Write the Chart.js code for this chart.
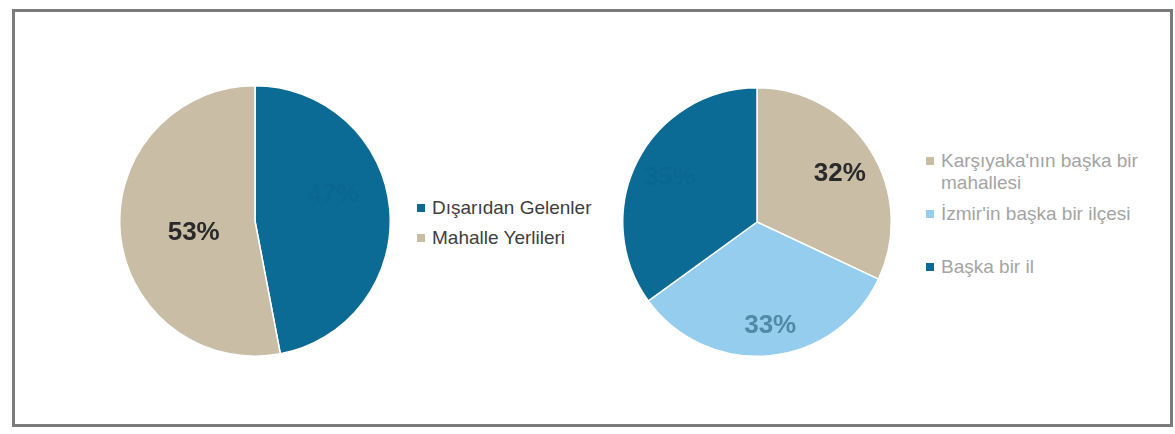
<!DOCTYPE html>
<html>
<head>
<meta charset="utf-8">
<script src="https://cdn.jsdelivr.net/npm/chart.js@4.4.1/dist/chart.umd.min.js"></script>
<style>
  body { margin: 0; background: #fff; font-family: "Liberation Sans", Arial, sans-serif; }
  #wrap { position: relative; width: 1175px; height: 434px; }
  #frame { position: absolute; left: 12px; top: 9px; width: 1155px; height: 412px; border: 3px solid #7b7b7b; }
  canvas { position: absolute; }
  .legend { position: absolute; font-size: 19px; }
  .legend div { position: relative; padding-left: 15px; }
  .legend span.mk { position: absolute; left: 0; width: 8px; height: 8px; }
</style>
</head>
<body>
<div id="wrap">
  <div id="frame"></div>
  <canvas id="pieLeft" width="272" height="272" style="left:119px; top:85px;"></canvas>
  <canvas id="pieRight" width="270" height="270" style="left:622px; top:87px;"></canvas>
  <div class="legend" id="legendLeft" style="left:417px; top:193px; color:#3e3e3e; line-height:30px;"></div>
  <div class="legend" id="legendRight" style="left:926px; top:150px; width:215px; color:#a4a4a4; line-height:22px;"></div>
</div>
<script>
// Sol grafik: kökeni
const solEtiketler = ['Dışarıdan Gelenler', 'Mahalle Yerlileri'];
const solDegerler = [47, 53];
const solRenkler = ['#0c6b94', '#c9bda5'];
const solYaziRenk = ['#0b6790', '#2a2a2a'];
const solKaydir = [[15, -20], [2, 6]];

// Sağ grafik: nereden geldikleri
const sagEtiketler = ["Karşıyaka'nın başka bir mahallesi", "İzmir'in başka bir ilçesi", 'Başka bir il'];
const sagDegerler = [32, 33, 35];
const sagRenkler = ['#c9bda5', '#94cdee', '#0c6b94'];
const sagYaziRenk = ['#2a2a2a', '#5089a8', '#0b6790'];
const sagKaydir = [[0, 4], [4, 6], [0, 0]];

// Dilim üstüne yüzde yazısı
function yuzdePlugin(renkler, oran, kaydir) {
    return {
        id: 'yuzde',
        afterDatasetsDraw(chart) {
            const ctx = chart.ctx;
            const meta = chart.getDatasetMeta(0);
            ctx.save();
            ctx.font = 'bold 26px "Liberation Sans", Arial, sans-serif';
            ctx.textAlign = 'center';
            ctx.textBaseline = 'middle';
            meta.data.forEach((arc, i) => {
                const a = (arc.startAngle + arc.endAngle) / 2;
                const r = arc.outerRadius * oran;
                ctx.fillStyle = renkler[i];
                ctx.fillText(chart.data.datasets[0].data[i] + '%',
                    arc.x + Math.cos(a) * r + kaydir[i][0],
                    arc.y + Math.sin(a) * r + kaydir[i][1]);
            });
            ctx.restore();
        }
    };
}

function pasta(id, etiketler, degerler, renkler, yaziRenk, oran, kaydir) {
    new Chart(document.getElementById(id), {
        type: 'pie',
        data: {
            labels: etiketler,
            datasets: [{
                data: degerler,
                backgroundColor: renkler,
                borderColor: '#ffffff',
                borderWidth: 1.5
            }]
        },
        options: {
            responsive: false,
            animation: false,
            layout: { padding: 0 },
            plugins: {
                legend: { display: false },
                tooltip: { enabled: false }
            }
        },
        plugins: [yuzdePlugin(yaziRenk, oran, kaydir)]
    });
}

pasta('pieLeft', solEtiketler, solDegerler, solRenkler, solYaziRenk, 0.47, solKaydir);
pasta('pieRight', sagEtiketler, sagDegerler, sagRenkler, sagYaziRenk, 0.73, sagKaydir);

// Lejantlar
function lejant(id, etiketler, renkler, araliklar, mkTop) {
    const el = document.getElementById(id);
    el.innerHTML = etiketler.map((t, i) => `
        <div style="margin-top:${araliklar[i]}px"><span class="mk" style="top:${mkTop}px; background:${renkler[i]}"></span>${t}</div>
    `).join('');
}

lejant('legendLeft', solEtiketler, solRenkler, [0, 0], 11);
lejant('legendRight', sagEtiketler, sagRenkler, [0, 9, 31], 7);
</script>
</body>
</html>
